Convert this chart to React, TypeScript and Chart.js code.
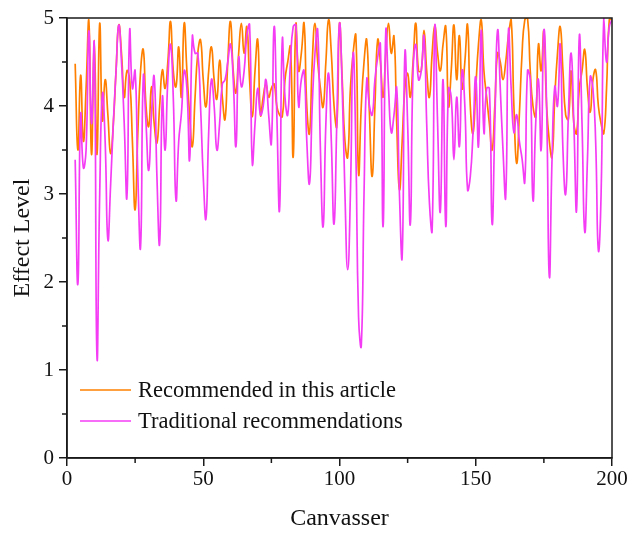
import React, { useEffect, useRef } from "react";
import { Chart, registerables } from "chart.js";

Chart.register(...registerables);

// first canvasser index plotted
const START_X = 3;

// Effect level, "Recommended in this article" (x = 3 .. 200)
const recommended = [
  4.48, 3.5, 4.35, 3.6, 4.2, 4.98, 3.45, 4.75, 3.45, 4.94,
  3.84, 4.3, 3.9, 3.46, 3.8, 4.4, 4.92, 4.6, 4.1, 4.4,
  4.3, 3.6, 2.82, 3.7, 4.4, 4.64, 4.0, 3.77, 4.22, 3.8,
  3.58, 4.0, 4.41, 4.2, 4.5, 4.96, 4.4, 4.22, 4.67, 4.1,
  4.94, 4.4, 3.9, 3.54, 4.1, 4.6, 4.75, 4.3, 3.99, 4.4,
  4.67, 4.3, 4.08, 4.52, 4.1, 3.85, 4.5, 4.96, 4.4, 4.15,
  4.6, 4.94, 4.6, 4.9, 4.3, 3.88, 4.4, 4.75, 3.9, 4.1,
  4.25, 4.1, 4.2, 4.25, 4.0, 3.9, 3.88, 4.3, 4.5, 4.67,
  3.42, 4.94, 4.4, 4.6, 4.94, 4.0, 3.69, 4.5, 4.94, 4.5,
  4.2, 3.99, 4.5, 4.98, 4.6, 4.0, 3.77, 4.94, 4.3, 3.6,
  3.42, 4.2, 4.6, 4.8, 3.23, 4.0, 4.5, 4.75, 3.9, 3.2,
  4.0, 4.75, 4.5, 4.1, 4.6, 4.94, 4.6, 4.79, 3.8, 3.05,
  3.6, 4.2, 4.37, 4.1, 4.5, 4.94, 4.4, 4.4, 4.86, 4.4,
  4.1, 4.6, 4.92, 4.6, 4.4, 4.7, 4.9, 4.0, 4.4, 4.92,
  4.3, 4.8, 4.2, 4.5, 4.92, 4.0, 3.69, 4.2, 4.7, 4.98,
  4.4, 4.1, 3.8, 3.5, 4.0, 4.6, 4.5, 4.3, 4.5, 4.8,
  4.98, 4.0, 3.35, 3.9, 4.6, 4.98, 5.0, 4.4, 4.0, 3.88,
  4.7, 4.4, 4.85, 4.0, 3.6, 3.42, 4.1, 4.6, 4.9, 4.4,
  3.9, 3.85, 4.4, 3.8, 3.69, 4.2, 4.4, 4.64, 4.2, 3.93,
  4.3, 4.41, 4.0, 3.8, 3.69, 4.2, 4.98, 4.98,
];

// Effect level, "Traditional recommendations" (x = 3 .. 200)
const traditional = [
  3.39, 1.98, 3.9, 3.3, 3.5, 4.85, 3.8, 4.7, 1.15, 3.0,
  4.14, 3.6, 2.48, 3.1, 3.8, 4.4, 4.92, 4.5, 3.8, 2.97,
  4.86, 4.2, 4.4, 3.2, 2.4, 4.33, 3.8, 3.27, 3.9, 4.33,
  3.2, 2.44, 4.1, 3.5, 4.3, 4.7, 4.1, 2.93, 3.6, 3.92,
  4.4, 4.2, 3.39, 4.79, 4.6, 4.6, 4.0, 3.2, 2.72, 3.7,
  4.3, 4.0, 3.5, 3.8, 4.25, 4.3, 4.5, 4.7, 4.3, 3.54,
  4.55, 4.22, 4.4, 4.8, 4.92, 3.35, 3.8, 4.2, 3.9, 4.0,
  4.3, 3.9, 3.58, 4.9, 3.9, 2.82, 4.75, 4.1, 3.9, 4.5,
  4.9, 4.92, 4.0, 4.3, 4.4, 3.6, 3.12, 4.0, 4.6, 4.86,
  3.5, 2.63, 3.8, 4.37, 3.6, 2.66, 3.8, 4.94, 4.2, 3.0,
  2.14, 3.0, 4.6, 3.5, 1.6, 1.28, 3.0, 4.3, 4.0, 3.9,
  4.3, 4.55, 4.7, 2.63, 4.86, 4.2, 3.7, 3.9, 4.2, 3.0,
  2.29, 4.6, 3.8, 2.66, 4.4, 4.7, 4.3, 4.4, 4.79, 3.8,
  2.9, 2.59, 4.92, 3.8, 2.8, 4.3, 2.63, 4.2, 4.1, 3.39,
  4.1, 3.54, 4.4, 4.0, 3.05, 3.2, 3.7, 4.33, 3.54, 4.86,
  3.7, 4.2, 4.2, 2.66, 3.8, 4.86, 4.2, 3.5, 2.97, 4.86,
  4.2, 3.7, 3.9, 3.6, 3.4, 3.14, 4.4, 4.3, 2.93, 3.8,
  4.3, 3.5, 4.86, 4.0, 2.06, 3.4, 4.22, 4.0, 4.7, 3.5,
  3.0, 3.9, 4.6, 3.8, 2.82, 4.79, 3.8, 2.57, 3.4, 4.33,
  4.2, 3.6, 2.36, 3.0, 5.0, 4.5, 4.9, 4.98,
];

const seriesLabels = ["Recommended in this article", "Traditional recommendations"];
const seriesColors = ["#FF8000", "#F53CF5"];
const xMajorTicks = [0, 50, 100, 150, 200];
const xMinorTicks = [25, 75, 125, 175];
const yMajorTicks = [0, 1, 2, 3, 4, 5];
const yMinorTicks = [0.5, 1.5, 2.5, 3.5, 4.5];
const xTitle = "Canvasser";
const yTitle = "Effect Level";

const FONT = '"Liberation Serif", "Times New Roman", serif';
const AXIS = "#1a1a1a";

export default function App() {
  const ref = useRef<HTMLCanvasElement | null>(null);

  useEffect(() => {
    if (!ref.current) return;
    const toPts = (arr: number[]) => arr.map((v, i) => ({ x: START_X + i, y: v }));

    const framePlugin = {
      id: "frameAndLegend",
      afterDraw(chart: any) {
        const { ctx, chartArea: a, scales } = chart;
        ctx.save();
        ctx.strokeStyle = AXIS;
        ctx.lineWidth = 1.5;
        ctx.strokeRect(a.left, a.top, a.right - a.left, a.bottom - a.top);
        ctx.beginPath();
        yMinorTicks.forEach((v) => {
          const y = scales.y.getPixelForValue(v);
          ctx.moveTo(a.left - 5, y);
          ctx.lineTo(a.left, y);
        });
        xMinorTicks.forEach((v) => {
          const x = scales.x.getPixelForValue(v);
          ctx.moveTo(x, a.bottom);
          ctx.lineTo(x, a.bottom + 5);
        });
        ctx.stroke();

        // legend inside plot, lower left
        const rowsY = [a.bottom - 68, a.bottom - 37];
        ctx.font = `22.5px ${FONT}`;
        ctx.textBaseline = "middle";
        ctx.textAlign = "left";
        seriesLabels.forEach((lab, i) => {
          const y = rowsY[i];
          ctx.strokeStyle = seriesColors[i];
          ctx.lineWidth = 1.5;
          ctx.beginPath();
          ctx.moveTo(a.left + 13, y);
          ctx.lineTo(a.left + 64, y);
          ctx.stroke();
          ctx.fillStyle = "#111";
          ctx.fillText(lab, a.left + 71, y + 1);
        });
        ctx.restore();
      },
    };

    const chart = new Chart(ref.current, {
      type: "line",
      data: {
        datasets: [
          {
            label: seriesLabels[0],
            data: toPts(recommended),
            borderColor: seriesColors[0],
            borderWidth: 1.7,
            pointRadius: 0,
            tension: 0.5,
            fill: false,
            order: 1,
          },
          {
            label: seriesLabels[1],
            data: toPts(traditional),
            borderColor: seriesColors[1],
            borderWidth: 1.7,
            pointRadius: 0,
            tension: 0.5,
            fill: false,
            order: 0,
          },
        ],
      },
      options: {
        animation: false,
        responsive: false,
        devicePixelRatio: 1,
        layout: { padding: { top: 18, right: 19, left: 0, bottom: 0 } },
        plugins: { legend: { display: false }, tooltip: { enabled: false } },
        scales: {
          x: {
            type: "linear",
            min: 0,
            max: 200,
            afterFit: (s: any) => {
              s.height = 77;
            },
            afterBuildTicks: (s: any) => {
              s.ticks = xMajorTicks.map((v) => ({ value: v }));
            },
            ticks: {
              font: { family: FONT, size: 21 },
              color: "#111",
              padding: 1,
              maxRotation: 0,
              autoSkip: false,
            },
            grid: {
              display: true,
              drawOnChartArea: false,
              drawTicks: true,
              tickLength: 8,
              color: AXIS,
              lineWidth: 1.5,
            },
            border: { display: true, color: AXIS, width: 1.5 },
            title: {
              display: true,
              text: xTitle,
              font: { family: FONT, size: 24 },
              color: "#111",
              padding: { top: 0, bottom: 2 },
            },
          },
          y: {
            type: "linear",
            min: 0,
            max: 5,
            afterFit: (s: any) => {
              s.width = 67;
            },
            afterBuildTicks: (s: any) => {
              s.ticks = yMajorTicks.map((v) => ({ value: v }));
            },
            ticks: {
              font: { family: FONT, size: 21 },
              color: "#111",
              padding: 5,
            },
            grid: {
              display: true,
              drawOnChartArea: false,
              drawTicks: true,
              tickLength: 8,
              color: AXIS,
              lineWidth: 1.5,
            },
            border: { display: true, color: AXIS, width: 1.5 },
            title: {
              display: true,
              text: yTitle,
              font: { family: FONT, size: 24 },
              color: "#111",
              padding: { top: 8, bottom: 0 },
            },
          },
        },
      },
      plugins: [framePlugin],
    });
    return () => chart.destroy();
  }, []);

  return (
    <div style={{ position: "absolute", left: 0, top: 0, width: 631, height: 535, background: "#fff" }}>
      <canvas ref={ref} width={631} height={535} />
    </div>
  );
}
